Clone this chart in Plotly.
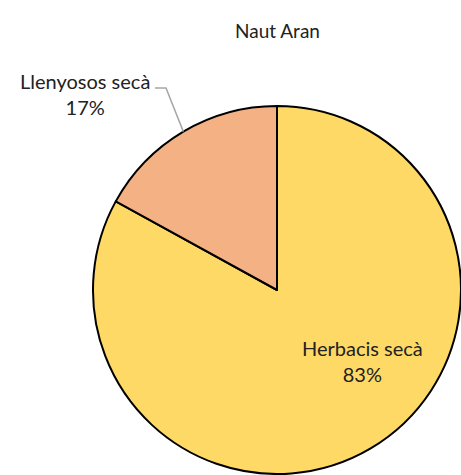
import math
import plotly.graph_objects as go

categories = ["Herbacis secà", "Llenyosos secà"]
values = [83, 17]
colors = ["#FFD966", "#F4B183"]
title_text = "Naut Aran"

W, H = 461, 475
# pie domain in paper coordinates (pie is partly cut by the figure edge)
x0, x1 = 93 / W, 1.0
y0, y1 = 0.0, (H - 105) / H

fig = go.Figure(go.Pie(
    labels=categories, values=values, sort=False, direction="clockwise",
    rotation=0, marker=dict(colors=colors, line=dict(color="#000000", width=2)),
    textinfo="none", hoverinfo="label+percent", showlegend=False,
    domain=dict(x=[x0, x1], y=[y0, y1]),
))

cx = (x0 + x1) / 2 * W
cy = H - (y0 + y1) / 2 * H
r = min((x1 - x0) * W, (y1 - y0) * H) / 2
total = sum(values)

def px(x, y):
    return x / W, 1 - y / H

font = dict(family="Lato, Open Sans, sans-serif", size=20, color="#222222")
pct = [round(v / total * 100) for v in values]

ax, ay = px(362, 361)
fig.add_annotation(x=ax, y=ay, xref="paper", yref="paper", showarrow=False,
                   xanchor="center", yanchor="middle",
                   text=f"{categories[0]}<br>{pct[0]}%", font=font, align="center")

start = values[0] / total * 360
mid = math.radians(start + values[1] / total * 360 / 2)
ex = cx + r * math.sin(mid)
ey = cy - r * math.cos(mid)
tx, ty = px(85, 94)
fig.add_annotation(x=tx, y=ty, xref="paper", yref="paper", showarrow=False,
                   xanchor="center", yanchor="middle",
                   text=f"{categories[1]}<br>{pct[1]}%", font=font, align="center")
p1 = px(155, 88)
p2 = px(166, 88)
p3 = px(ex, ey)
fig.add_shape(type="path", xref="paper", yref="paper",
              path=f"M {p1[0]} {p1[1]} L {p2[0]} {p2[1]} L {p3[0]} {p3[1]}",
              line=dict(color="#A6A6A6", width=1.5))

t = px(cx, 31)
fig.add_annotation(x=t[0], y=t[1], xref="paper", yref="paper", showarrow=False,
                   xanchor="center", yanchor="middle",
                   text=title_text, font=dict(family="Lato, Open Sans, sans-serif", size=19, color="#222222"))

fig.update_layout(width=W, height=H, margin=dict(l=0, r=0, t=0, b=0),
                  paper_bgcolor="white", plot_bgcolor="white")
fig.write_html("out.html", config={"displayModeBar": False},
               post_script="document.body.style.margin='0';document.body.style.overflow='hidden';")
